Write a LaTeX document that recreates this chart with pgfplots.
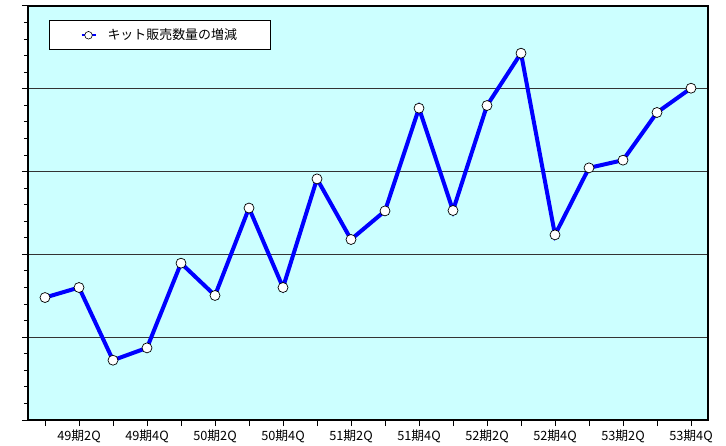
\documentclass[border=0pt]{standalone}
\usepackage{fontspec}
\setmainfont{Noto Sans CJK JP}
\usepackage{pgfplots}
\pgfplotsset{compat=1.18}
\usetikzlibrary{calc}
\definecolor{bgcyan}{RGB}{204,255,255}
\begin{document}
\begin{tikzpicture}
\begin{axis}[
 width=680bp, height=414bp, scale only axis,
 xmin=-0.5, xmax=19.5, ymin=0, ymax=5,
 axis background/.style={fill=bgcyan},
 axis line style={black, line width=1.5bp},
 xtick={0,...,19},
 xticklabels={,49期2Q,,49期4Q,,50期2Q,,50期4Q,,51期2Q,,51期4Q,,52期2Q,,52期4Q,,53期2Q,,53期4Q},
 ytick={0,...,5}, yticklabels={},
 minor y tick num=4,
 tick align=outside,
 tick pos=left,
 major tick length=6bp, minor tick length=4bp,
 tick style={black, line width=1bp},
 ymajorgrids, major grid style={black!80, line width=0.8bp},
 ticklabel style={font=\fontsize{12.8}{14}\selectfont},
 legend style={at={(0.0309,0.966)}, anchor=north west, draw=black, fill=white, line width=1bp,
   inner xsep=31bp, inner ysep=6.5bp, font=\fontsize{13}{15}\selectfont},
 legend image code/.code={\draw[blue, line width=2bp] (0bp,0bp) -- (14bp,0bp); \draw[black, fill=white, line width=0.6bp] (7bp,0bp) circle (3.8bp); \path (22bp,0bp);},
]
\addplot[blue, line width=4bp, mark=*, mark size=5bp, mark options={fill=white, draw=black, line width=0.7bp}] coordinates {
(0,1.479) (1,1.600) (2,0.722) (3,0.871) (4,1.894) (5,1.504) (6,2.560) (7,1.600) (8,2.912) (9,2.180)
(10,2.525) (11,3.766) (12,2.530) (13,3.798) (14,4.430) (15,2.236) (16,3.045) (17,3.138) (18,3.714) (19,4.007)
};
\addlegendentry{キット販売数量の増減}
\end{axis}
\pgfresetboundingbox
\path[use as bounding box] ($(current axis.south west)+(-28bp,-26bp)$) rectangle ($(current axis.north east)+(18bp,6bp)$);
\end{tikzpicture}
\end{document}
